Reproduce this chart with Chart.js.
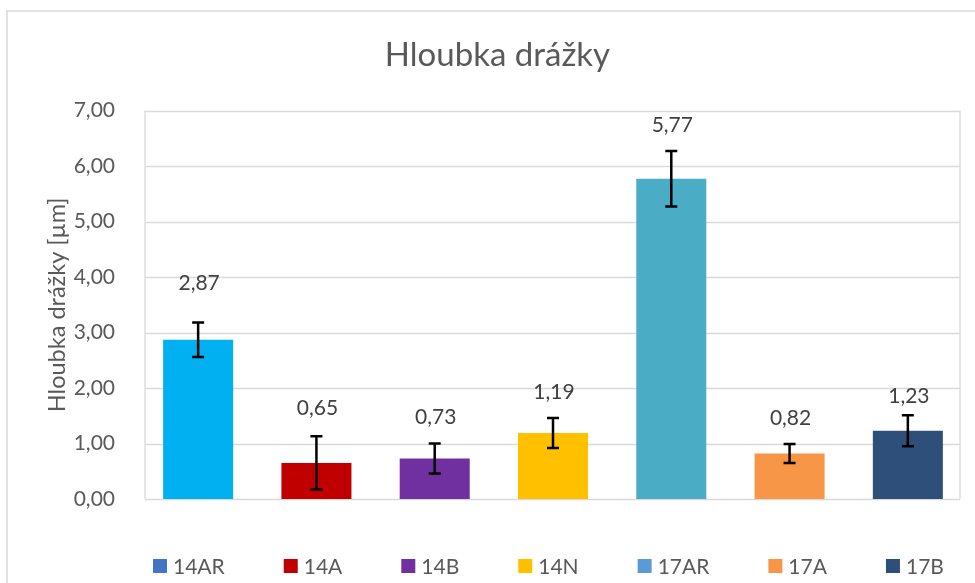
<!DOCTYPE html>
<html>
<head>
<meta charset="utf-8">
<script src="https://cdn.jsdelivr.net/npm/chart.js@4/dist/chart.umd.min.js"></script>
<style>
  html, body { margin: 0; padding: 0; background: #fff; }
  #wrap { width: 975px; height: 583px; position: relative; }
</style>
</head>
<body>
<div id="wrap"><canvas id="c" width="975" height="583"></canvas></div>
<script>
// Groove depth per sample, with standard deviation
const categories = ['14AR', '14A', '14B', '14N', '17AR', '17A', '17B'];
const depths = [2.87, 0.65, 0.73, 1.19, 5.77, 0.82, 1.23];
const deviations = [0.31, 0.48, 0.27, 0.27, 0.50, 0.17, 0.28];
const yTicks = [0, 1, 2, 3, 4, 5, 6, 7];

const barColors = ['#00B0F0', '#C00000', '#7030A0', '#FFC000', '#4BACC6', '#F79646', '#2E4F7A'];
const legendColors = ['#4472C4', '#C00000', '#7030A0', '#FFC000', '#5B9BD5', '#F79646', '#2E4F7A'];

const FONT = 'Lato, "Open Sans", sans-serif';
const fmt = v => v.toFixed(2).replace('.', ',');

// Light grey outer frame of the chart object
const outerFrame = {
  id: 'outerFrame',
  beforeDraw(chart) {
    const ctx = chart.ctx;
    ctx.save();
    ctx.fillStyle = '#fff';
    ctx.fillRect(0, 0, chart.width, chart.height);
    ctx.strokeStyle = '#D9D9D9';
    ctx.lineWidth = 1.5;
    ctx.strokeRect(7, 11, chart.width + 100, chart.height + 100);
    ctx.restore();
  }
};

// Plot-area box and horizontal gridlines
const plotFrame = {
  id: 'plotFrame',
  beforeDatasetsDraw(chart, args, opts) {
    const { ctx, chartArea, scales: { y } } = chart;
    const left = chartArea.left + opts.insetLeft;
    const right = chartArea.right - opts.insetRight;
    ctx.save();
    ctx.strokeStyle = '#D9D9D9';
    ctx.lineWidth = 1.3;
    yTicks.forEach(v => {
      const py = Math.round(y.getPixelForValue(v)) + 0.5;
      ctx.beginPath();
      ctx.moveTo(left, py);
      ctx.lineTo(right, py);
      ctx.stroke();
    });
    const top = y.getPixelForValue(yTicks[yTicks.length - 1]);
    const bottom = y.getPixelForValue(yTicks[0]);
    ctx.beginPath();
    ctx.moveTo(left, top);
    ctx.lineTo(left, bottom);
    ctx.moveTo(right, top);
    ctx.lineTo(right, bottom);
    ctx.stroke();
    ctx.restore();
  }
};

// Error bars and value labels above them
const errorBars = {
  id: 'errorBars',
  afterDatasetsDraw(chart, args, opts) {
    const { ctx, scales: { y } } = chart;
    const meta = chart.getDatasetMeta(0);
    ctx.save();
    meta.data.forEach((bar, i) => {
      const v = depths[i], e = deviations[i];
      const x = bar.x;
      const yTop = y.getPixelForValue(v + e);
      const yBot = y.getPixelForValue(v - e);
      ctx.strokeStyle = '#000';
      ctx.lineWidth = 2.5;
      ctx.beginPath();
      ctx.moveTo(x, yTop); ctx.lineTo(x, yBot);
      ctx.moveTo(x - 6, yTop); ctx.lineTo(x + 6, yTop);
      ctx.moveTo(x - 6, yBot); ctx.lineTo(x + 6, yBot);
      ctx.stroke();

      ctx.fillStyle = '#404040';
      ctx.font = '21px ' + FONT;
      ctx.textAlign = 'center';
      ctx.textBaseline = 'middle';
      ctx.fillText(fmt(v), x + 1, yTop - opts.labelGap[i]);
    });
    ctx.restore();
  }
};

// Legend row under the plot
const bottomLegend = {
  id: 'bottomLegend',
  afterDraw(chart, args, opts) {
    const ctx = chart.ctx;
    ctx.save();
    ctx.font = '21px ' + FONT;
    ctx.textBaseline = 'middle';
    ctx.textAlign = 'left';
    let x = opts.startX;
    const yc = opts.centerY;
    categories.forEach((name, i) => {
      ctx.fillStyle = legendColors[i];
      ctx.fillRect(x, yc - 7, 14, 14);
      ctx.fillStyle = '#595959';
      ctx.fillText(name, x + 20, yc + 1);
      x += 20 + ctx.measureText(name).width + 59;
    });
    ctx.restore();
  }
};

new Chart(document.getElementById('c'), {
  type: 'bar',
  data: {
    labels: categories,
    datasets: [{
      data: depths,
      backgroundColor: barColors,
      borderWidth: 0,
      barPercentage: 0.592,
      categoryPercentage: 1
    }]
  },
  options: {
    responsive: false,
    animation: false,
    events: [],
    layout: { padding: { left: 28, right: 8, top: 36, bottom: 84 } },
    plugins: {
      legend: { display: false },
      tooltip: { enabled: false },
      title: {
        display: true,
        text: 'Hloubka drážky',
        color: '#595959',
        font: { family: FONT, size: 33, weight: 'normal' },
        padding: { top: 0, bottom: 35 }
      },
      plotFrame: { insetLeft: 6, insetRight: 7 },
      errorBars: { labelGap: [39, 28, 26, 26, 26, 26, 18.5] },
      bottomLegend: { startX: 153, centerY: 566 }
    },
    scales: {
      x: { display: false, offset: true },
      y: {
        min: 0,
        max: 7,
        afterBuildTicks: s => { s.ticks = yTicks.map(v => ({ value: v })); },
        afterFit: s => { s.width = 111; },
        grid: { display: false },
        border: { display: false },
        ticks: {
          padding: 16,
          color: '#595959',
          font: { family: FONT, size: 21 },
          callback: v => fmt(v)
        },
        title: {
          display: true,
          text: 'Hloubka drážky [µm]',
          color: '#595959',
          font: { family: FONT, size: 23.5 },
          padding: { top: 15.4, bottom: 0 }
        }
      }
    }
  },
  plugins: [outerFrame, plotFrame, errorBars, bottomLegend]
});
</script>
</body>
</html>
